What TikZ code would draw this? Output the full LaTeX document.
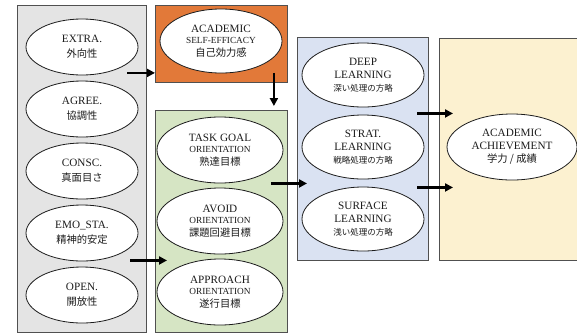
\documentclass[tikz,border=0pt]{standalone}
\usepackage{fontspec}
\setmainfont{Liberation Serif}
\newfontfamily\jp{Noto Sans CJK JP}
\usetikzlibrary{arrows.meta,calc,shapes.geometric}
\definecolor{ink}{HTML}{1C1C1C}
\definecolor{edge}{HTML}{505050}
\definecolor{persfill}{HTML}{E4E4E4}
\definecolor{efficfill}{HTML}{E27939}
\definecolor{goalfill}{HTML}{D6E5C4}
\definecolor{procfill}{HTML}{DAE2F2}
\definecolor{achfill}{HTML}{FCF1D0}
\newcommand{\smtxt}[1]{{\fontsize{9.3}{10}\selectfont #1}}
\newcommand{\jptxt}[1]{{\jp\fontsize{10.3}{12}\selectfont #1}}
\newcommand{\jpsm}[1]{{\jp\fontsize{8.5}{10}\selectfont #1}}
\tikzset{
  grp/.style={draw=edge,fill=#1,line width=0.9pt,inner sep=0pt,anchor=north west},
  ell/.style 2 args={ellipse,draw=ink,fill=white,line width=0.8pt,align=center,
    inner sep=0pt,text=ink,minimum width=#1,minimum height=#2},
  arr/.style={-{Triangle[length=8pt,width=8pt]},line width=2.4pt,draw=black},
}

\begin{document}
\begin{tikzpicture}[x=1pt,y=-1pt,font=\fontsize{11.2}{13}\selectfont]
    \useasboundingbox (0,0) rectangle (577,333);
    \clip (0,0) rectangle (577,333);

    % group boxes
    \node[grp=persfill,minimum width=129,minimum height=327] (pers) at (17,5) {};
    \node[grp=efficfill,minimum width=132,minimum height=77] (sef) at (155,5) {};
    \node[grp=goalfill,minimum width=132,minimum height=222] (goal) at (155,110) {};
    \node[grp=procfill,minimum width=131,minimum height=223] (proc) at (297,37) {};
    \node[grp=achfill,minimum width=170,minimum height=222] (achbox) at (439,38) {};

    % personality
    \node[ell={112}{56}] (extra) at (82,47)  {EXTRA.\\[2pt]\jptxt{外向性}};
    \node[ell={112}{56}] (agree) at (82,109) {AGREE.\\[2pt]\jptxt{協調性}};
    \node[ell={112}{56}] (consc) at (82,171) {CONSC.\\[2pt]\jptxt{真面目さ}};
    \node[ell={112}{56}] (emo)   at (82,233) {EMO\_STA.\\[2pt]\jptxt{精神的安定}};
    \node[ell={112}{56}] (open)  at (82,295) {OPEN.\\[2pt]\jptxt{開放性}};

    % self-efficacy and goals
    \node[ell={122}{64}] (selfeff) at (221,41)
      {ACADEMIC\\[-2pt]\smtxt{SELF-EFFICACY}\\\jptxt{自己効力感}};
    \node[ell={126}{66}] (task) at (220,150)
      {TASK GOAL\\[-2pt]\smtxt{ORIENTATION}\\\jptxt{熟達目標}};
    \node[ell={126}{66}] (avoid) at (220,221)
      {AVOID\\[-2pt]\smtxt{ORIENTATION}\\\jptxt{課題回避目標}};
    \node[ell={126}{66}] (appr) at (220,292)
      {APPROACH\\[-2pt]\smtxt{ORIENTATION}\\\jptxt{遂行目標}};

    % learning strategies
    \node[ell={122}{64}] (deep) at (363,75)
      {DEEP\\LEARNING\\\jpsm{深い処理の方略}};
    \node[ell={122}{64}] (strat) at (363,147)
      {STRAT.\\LEARNING\\\jpsm{戦略処理の方略}};
    \node[ell={122}{64}] (surf) at (363,219)
      {SURFACE\\LEARNING\\\jpsm{浅い処理の方略}};

    \node[ell={130}{66}] (ach) at (512,147)
      {ACADEMIC\\ACHIEVEMENT\\\jptxt{学力 / 成績}};

    % arrows
    \draw[arr] ($(sef.south west)+(-28,-10)$) -- ($(sef.south west)+(0,-10)$);
    \draw[arr] ($(sef.south east)+(-14,-10)$) -- ($(goal.north east)+(-14,-4)$);
    \draw[arr] ($(goal.west)+(-25,39)$) -- ($(goal.west)+(12,39)$);
    \draw[arr] ($(goal.east)+(-17,-38)$) -- ($(proc.west)+(10,34.5)$);
    \draw[arr] ($(achbox.west)+(-22,-36)$) -- ($(achbox.west)+(14,-36)$);
    \draw[arr] ($(achbox.west)+(-22,38)$) -- ($(achbox.west)+(14,38)$);
  \end{tikzpicture}
\end{document}
